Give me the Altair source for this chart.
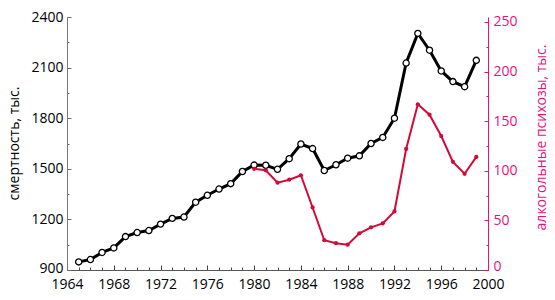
import altair as alt
import pandas as pd

# --- data ---
death_years = list(range(1965, 2000))
deaths = [948, 962, 1004, 1031, 1098, 1122, 1134, 1172, 1206, 1214, 1302, 1343, 1380,
          1412, 1484, 1522, 1521, 1497, 1560, 1647, 1620, 1490, 1524, 1563, 1577,
          1650, 1686, 1800, 2127, 2303, 2203, 2080, 2017, 1987, 2143]

psych_years = list(range(1980, 2000))
psychoses = [102, 100.5, 88, 91, 95.5, 63, 30, 27, 25.5, 37, 43, 47, 59, 122, 167,
             156.5, 135, 109, 97, 114]

x_ticks = list(range(1964, 2001))
left_ticks = list(range(900, 2401, 150))
right_ticks = list(range(0, 251, 25))

left_title = "смертность, тыс."
right_title = "алкогольные психозы, тыс."

BLACK = "#000000"
RED = "#d20a3a"
PINK = "#e6127c"
FONT = "Open Sans"

df_d = pd.DataFrame({"year": death_years, "value": deaths})
df_p = pd.DataFrame({"year": psych_years, "value": psychoses})

x_enc = alt.X(
    "year:Q",
    scale=alt.Scale(domain=[1964, 2000], nice=False, zero=False),
    axis=alt.Axis(
        values=x_ticks,
        labelExpr="datum.value % 4 === 0 ? datum.value : ''",
        title=None, grid=False,
        tickSize=alt.ExprRef("datum.value % 4 === 0 ? -5 : -3"),
        tickColor="#444444", domainColor="#555555", domainWidth=1,
        labelPadding=12, labelFont=FONT, labelFontSize=14, labelColor="#000000",
        labelFlush=False, labelOverlap=False,
    ),
)

left = alt.Chart(df_d).encode(
    x=x_enc,
    y=alt.Y(
        "value:Q",
        scale=alt.Scale(domain=[900, 2400], nice=False, zero=False),
        axis=alt.Axis(
            orient="left", values=left_ticks,
            labelExpr="(datum.value - 900) % 300 === 0 ? datum.value : ''",
            title=left_title, grid=False,
            tickSize=alt.ExprRef("(datum.value - 900) % 300 === 0 ? -4 : -2"),
            tickColor="#666666", domainColor="#777777", domainWidth=1,
            labelPadding=8, labelFont=FONT, labelFontSize=14, labelColor="#000000",
            labelOverlap=False,
            labelOffset=alt.ExprRef("datum.value === 900 ? -2 : 0"),
            titleFont=FONT, titleFontSize=14, titleFontWeight="normal", titleColor="#000000",
            titleAngle=270, titleAlign="center", titleBaseline="middle",
            titleX=-53, titleY=126,
        ),
    ),
)

left_line = left.mark_line(color=BLACK, strokeWidth=3)
left_pts = left.mark_point(shape="circle", filled=True, fill="white", stroke=BLACK,
                           strokeWidth=1.3, size=38, opacity=1)

right = alt.Chart(df_p).encode(
    x=x_enc,
    y=alt.Y(
        "value:Q",
        scale=alt.Scale(domain=[0, 255], nice=False, zero=True),
        axis=alt.Axis(
            orient="right", values=right_ticks,
            labelExpr="datum.value % 50 === 0 ? datum.value : ''",
            title=right_title, grid=False,
            tickSize=alt.ExprRef("datum.value % 50 === 0 ? -4 : -2"),
            tickColor=PINK, domainColor=PINK, domainWidth=1,
            labelPadding=9, labelFont=FONT, labelFontSize=14, labelColor=PINK,
            labelOverlap=False,
            labelOffset=alt.ExprRef("datum.value === 0 ? -4 : 0"),
            titleFont=FONT, titleFontSize=14, titleFontWeight="normal", titleColor=PINK,
            titleAngle=270, titleAlign="center", titleBaseline="middle",
            titleX=53, titleY=120,
        ),
    ),
)

right_line = right.mark_line(color=RED, strokeWidth=2)
right_pts = right.mark_point(shape="circle", filled=True, color=RED, size=18, opacity=1)

chart = (
    alt.layer(alt.layer(left_line, left_pts), alt.layer(right_line, right_pts))
    .resolve_scale(y="independent")
    .properties(
        width=421, height=253,
        autosize=alt.AutoSizeParams(type="none"),
        padding={"left": 67, "top": 17, "right": 67, "bottom": 30},
    )
    .configure_view(stroke=None)
)

chart.save("out.html", embed_options={"renderer": "svg", "actions": False})
